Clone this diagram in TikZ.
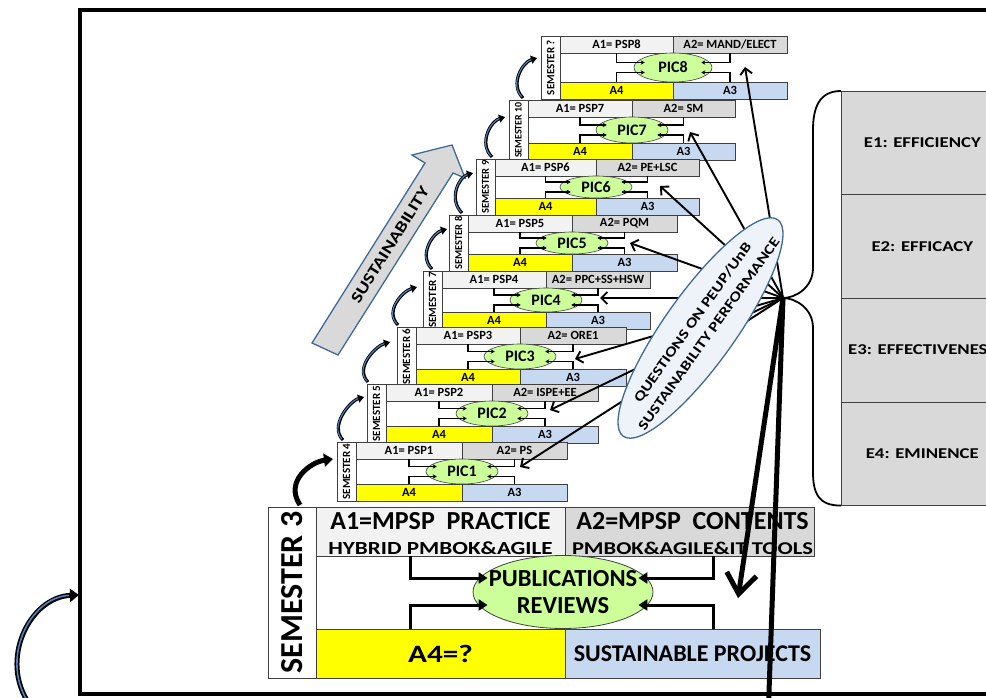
\documentclass[tikz,border=0pt]{standalone}
\usepackage{fontspec}
\setmainfont{Carlito}
\newfontfamily\widefont{Carlito}[FakeStretch=1.25]
\usetikzlibrary{shapes.geometric,arrows.meta}

\definecolor{rowlight}{HTML}{F2F2F2}
\definecolor{rowgray}{HTML}{D9D9D9}
\definecolor{rowyellow}{HTML}{FFFF00}
\definecolor{rowblue}{HTML}{C6D9F1}
\definecolor{picgreen}{HTML}{CCFF99}
\definecolor{qfill}{HTML}{EEF3FA}
\definecolor{qborder}{HTML}{3F6A96}
\definecolor{stepblue}{HTML}{4F81BD}
\definecolor{boxline}{HTML}{404040}

\tikzset{
  cell/.style={draw=boxline, line width=0.6pt, inner sep=0pt, outer sep=0pt, minimum height=17pt,
    font=\bfseries\fontsize{12.5}{13}\selectfont},
  semlab/.style={draw=boxline, fill=white, line width=0.6pt, inner sep=0pt, outer sep=0pt},
  semtext/.style={rotate=90, inner sep=0pt, font=\bfseries\fontsize{11}{12}\selectfont},
  picnode/.style={ellipse, draw=boxline, fill=picgreen, line width=0.6pt, inner sep=0pt,
    font=\bfseries\fontsize{16}{16}\selectfont},
  inarrow/.style={line width=1.2pt, -{Stealth[length=4pt,width=4.5pt]}},
  qarrow/.style={line width=1.9pt, -{Straight Barb[length=6pt,width=12pt]}},
  bigarrow/.style={line width=3pt, -{Triangle[length=9pt,width=11pt]}},
  heavyline/.style={line width=5pt},
  ebox/.style={draw=boxline, fill=rowgray, line width=0.6pt, inner sep=0pt, minimum width=162pt,
    minimum height=103.5pt, anchor=north west, font=\widefont\bfseries\fontsize{15}{15}\selectfont},
  bigbox/.style={draw=boxline, line width=0.8pt, inner sep=0pt, outer sep=0pt,
    minimum width=249pt, minimum height=49pt, anchor=north west},
  plain/.style={inner sep=0pt, outer sep=0pt},
}

% one semester block: #1 index, #2 left x, #3 top y, #4 split x, #5 right x, #6 bottom y,
% #7 semester label, #8 A1 text, #9 A2 text
\newcommand\semblock[9]{%
  \pgfmathsetmacro\bxl{#2+19}%
  \pgfmathsetmacro\wa{#4-#2-19}%
  \pgfmathsetmacro\wb{#5-#4}%
  \pgfmathsetmacro\hh{#6-#3}%
  \pgfmathsetmacro\ym{(#3+#6)/2}%
  \pgfmathsetmacro\eh{#6-#3-34}%
  \pgfmathsetmacro\ew{#1==8 ? 78 : 72}%
  \node[semlab, anchor=north west, minimum width=19pt, minimum height=\hh pt] (s#1) at (#2,#3) {};
  \node[semtext] (s#1t) at (s#1.center) {#7};
  \node[cell, fill=rowlight, anchor=north west, minimum width=\wa pt] (a1-#1) at (\bxl,#3) {#8};
  \node[cell, fill=rowgray, anchor=north west, minimum width=\wb pt] (a2-#1) at (#4,#3) {#9};
  \node[cell, fill=rowyellow, anchor=south west, minimum width=\wa pt] (a4-#1) at (\bxl,#6) {A4};
  \node[cell, fill=rowblue, anchor=south west, minimum width=\wb pt] (a3-#1) at (#4,#6) {A3};
  \node[picnode, minimum width=\ew pt, minimum height=\eh pt] (pic-#1) at (#4,\ym) {PIC#1};
  \draw[inarrow] (a1-#1.south) |- ([xshift=11pt,yshift=5pt]pic-#1.west);
  \draw[inarrow] (a2-#1.south) |- ([xshift=-11pt,yshift=5pt]pic-#1.east);
  \draw[inarrow] (a4-#1.north) |- ([xshift=11pt,yshift=-5pt]pic-#1.west);
  \draw[inarrow] (a3-#1.north) |- ([xshift=-11pt,yshift=-5pt]pic-#1.east);
}

% curved step arrow from one semester label to the next
% #1 lower label, #2 x offset at start, #3 upper label, #4 x offset at end, #5 drop at end
\newcommand\stepcurve[5]{%
  \draw[line width=3.2pt, -{Triangle[length=6pt,width=8pt]}]
    ([xshift=#2pt,yshift=2pt]#1.north west) .. controls +(-14,-14) and +(-14,4) ..
    ([xshift=#4pt,yshift=-#5pt]#3.north west);
  \draw[line width=1.1pt, stepblue, shorten >=6pt, shorten <=1.5pt]
    ([xshift=#2pt,yshift=2pt]#1.north west) .. controls +(-14,-14) and +(-14,4) ..
    ([xshift=#4pt,yshift=-#5pt]#3.north west);
}

\begin{document}
\begin{tikzpicture}[x=1pt,y=-1pt]
\useasboundingbox (0,0) rectangle (986,698);
\clip (0,0) rectangle (986,698);

% outer frame
\draw[line width=3.5pt] (80,10) rectangle (1010,694);

% sustainability block arrow
\draw[fill=rowgray, draw=qborder, line width=1.3pt, line join=miter]
  (312,343) -- (425,163) -- (412,155) -- (452,145) -- (465,178) -- (453,173) -- (338,355) -- cycle;
\node[plain, rotate=58, font=\widefont\bfseries\fontsize{16}{16}\selectfont] (sust) at (390,245) {SUSTAINABILITY};

% evaluation dimensions
\node[ebox] (e1) at (841,91) {E1: EFFICIENCY};
\node[ebox] (e2) at (841,194.5) {E2: EFFICACY};
\node[ebox] (e3) at (841,298) {E3: EFFECTIVENESS};
\node[ebox] (e4) at (841,401.5) {E4: EMINENCE};

\coordinate (conv) at (783,298);
\draw[line width=1.8pt] (e1.north west) .. controls +(-22,0) and +(0,-22) .. (813,130)
  -- (813,268) .. controls +(0,20) and +(12,0) .. (conv)
  .. controls +(12,0) and +(0,-20) .. (813,328)
  -- (813,472) .. controls +(0,22) and +(-22,0) .. (e4.south west);

% semester blocks 4 .. ?
\semblock{8}{541}{36}{673}{787}{99}{SEMESTER ?}{A1= PSP8}{A2= MAND/ELECT}
\semblock{7}{509}{100}{632}{735}{160}{{\fontsize{10}{11}\selectfont SEMESTER 10}}{A1= PSP7}{A2= SM}
\semblock{6}{476}{159}{596}{699}{215}{{\fontsize{10.5}{11}\selectfont SEMESTER 9}}{A1= PSP6}{A2= PE+LSC}
\semblock{5}{449}{215}{572}{677}{271}{{\fontsize{10.5}{11}\selectfont SEMESTER 8}}{A1= PSP5}{A2= PQM}
\semblock{4}{423}{271}{546}{650}{329}{SEMESTER 7}{A1= PSP4}{A2= PPC+SS+HSW}
\semblock{3}{397}{327}{520}{626}{386}{SEMESTER 6}{A1= PSP3}{A2= ORE1}
\semblock{2}{367}{384}{492}{598}{443}{SEMESTER 5}{A1= PSP2}{A2= ISPE+EE}
\semblock{1}{337}{442}{462}{567}{501}{SEMESTER 4}{A1= PSP1}{A2= PS}

\stepcurve{s1}{6}{s2}{-3}{13}
\stepcurve{s2}{1}{s3}{-7}{15}
\stepcurve{s3}{1}{s4}{-6}{16}
\stepcurve{s4}{9}{s5}{-2}{14}
\stepcurve{s5}{13}{s6}{-3}{14}
\stepcurve{s6}{16}{s7}{-4}{17}
\stepcurve{s7}{14}{s8}{-4}{22}

% semester 3
\node[semlab, anchor=north west, minimum width=48pt, minimum height=171pt] (s0) at (268,507) {};
\node[plain, rotate=90, font=\bfseries\fontsize{32}{32}\selectfont] (s0t) at (s0.center) {SEMESTER 3};
\node[bigbox, fill=rowlight] (b1) at (316,507) {};
\node[bigbox, fill=rowgray] (b2) at (565,507) {};
\node[bigbox, fill=rowyellow, font=\widefont\bfseries\fontsize{25}{25}\selectfont] (b4) at (316,629) {A4=?};
\node[bigbox, fill=rowblue, font=\bfseries\fontsize{24}{24}\selectfont, minimum width=255pt] (b3) at (565,629) {SUSTAINABLE PROJECTS};
\node[plain, font=\bfseries\fontsize{26}{26}\selectfont] (b1t) at (440.5,521) {A1=MPSP\ \ PRACTICE};
\node[plain, font=\widefont\bfseries\fontsize{18.5}{18.5}\selectfont] (b1s) at (440.5,548) {HYBRID PMBOK\&AGILE};
\node[plain, font=\bfseries\fontsize{26}{26}\selectfont] (b2t) at (692.5,521) {A2=MPSP\ \ CONTENTS};
\node[plain, font=\widefont\bfseries\fontsize{18}{18}\selectfont] (b2s) at (692.5,548) {PMBOK\&AGILE\&IT TOOLS};
\node[ellipse, draw=boxline, fill=picgreen, line width=0.8pt, inner sep=0pt, minimum width=180pt,
  minimum height=73pt] (pub) at (563,592) {};
\node[plain, align=center, font=\bfseries\fontsize{24.5}{27}\selectfont] (pubt) at (pub.center)
  {PUBLICATIONS\\REVIEWS};
\draw[bigarrow] ([xshift=-30pt]b1.south) |- ([xshift=15pt,yshift=14pt]pub.west);
\draw[bigarrow] ([xshift=-30pt]b4.north) |- ([xshift=15pt,yshift=-13pt]pub.west);
\draw[bigarrow] ([xshift=24pt]b2.south) |- ([xshift=-15pt,yshift=14pt]pub.east);
\draw[bigarrow] ([xshift=21pt]b3.north) |- ([xshift=-15pt,yshift=-13pt]pub.east);

% questions fanning out to every semester
\coordinate (tip1) at (520,467);
\coordinate (tip2) at (550,410);
\coordinate (tip3) at (575,359);
\coordinate (tip4) at (600,298);
\coordinate (tip5) at (630,243);
\coordinate (tip6) at (660,186);
\coordinate (tip7) at (690,132);
\coordinate (tip8) at (745,67);
\foreach \k in {1,...,8} { \draw[qarrow] (conv) -- (tip\k); }

\node[ellipse, draw=qborder, fill=qfill, line width=1.3pt, minimum width=266pt, minimum height=71pt,
  rotate=54.5, inner sep=0pt] (q) at (700.5,328) {};
\node[plain, rotate=54.5, align=center, font=\widefont\bfseries\fontsize{14}{20}\selectfont] (qt)
  at (q.center) {QUESTIONS ON PEUP/UnB\\SUSTAINABILITY PERFORMANCE};

% heavy links down to semester 3
\coordinate (bigtip) at (738,598);
\coordinate (outlet) at (768,720);
\draw[heavyline, -{Straight Barb[length=20pt,width=30pt]}] (conv) -- (bigtip);
\draw[heavyline] (conv) -- (outlet);

% step from semester 3 to semester 4
\draw[line width=5pt, -{Triangle[length=9pt,width=13pt]}] (s0.north) ++(8,-2)
  .. controls +(-16,-24) and +(-22,3) .. ([xshift=-4pt,yshift=-17pt]s1.north west);

% entry arrow into the frame
\coordinate (entry) at (30,705);
\coordinate (framein) at (79,595);
\draw[line width=5pt, -{Triangle[length=9pt,width=13pt]}] (entry) .. controls (-2,660) and (30,597) .. (framein);
\draw[line width=1.6pt, stepblue, shorten >=10pt] (entry) .. controls (-2,660) and (30,597) .. (framein);
\end{tikzpicture}
\end{document}
